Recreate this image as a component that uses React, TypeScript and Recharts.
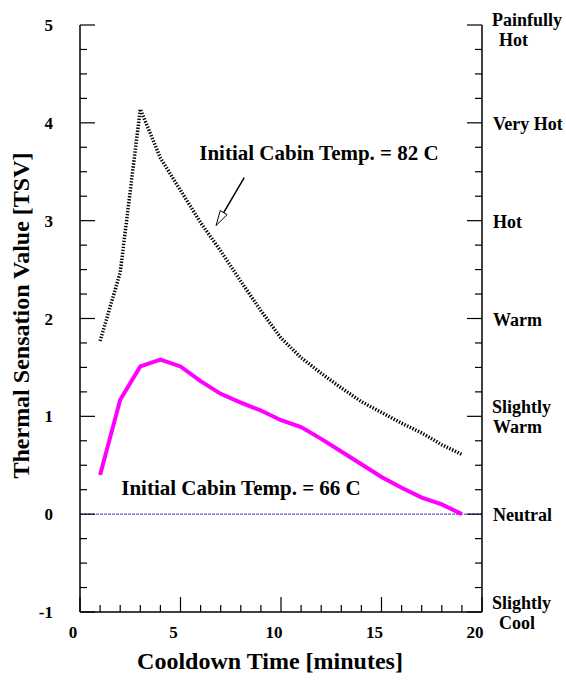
import { LineChart, Line, XAxis, YAxis, ReferenceLine, ReferenceDot, Label } from "recharts";

const FONT = '"Liberation Serif", "Times New Roman", Times, serif';
const textStyle = { fontFamily: FONT, fontWeight: "bold" as const, fill: "#000" };

// cooldown time in minutes
const minutes = [1, 2, 3, 4, 5, 6, 7, 8, 9, 10, 11, 12, 13, 14, 15, 16, 17, 18, 19];
// TSV, initial cabin temperature 82 C
const tsv82 = [1.77, 2.47, 4.14, 3.64, 3.31, 2.98, 2.69, 2.38, 2.08, 1.8, 1.6, 1.44, 1.29, 1.15, 1.04, 0.93, 0.83, 0.71, 0.61];
// TSV, initial cabin temperature 66 C
const tsv66 = [0.4, 1.17, 1.51, 1.58, 1.51, 1.36, 1.23, 1.14, 1.06, 0.96, 0.89, 0.77, 0.64, 0.51, 0.38, 0.27, 0.17, 0.1, 0.0];

const xTicks = [0, 1, 2, 3, 4, 5, 6, 7, 8, 9, 10, 11, 12, 13, 14, 15, 16, 17, 18, 19, 20];
const yTicks = Array.from({ length: 25 }, (_, i) => -1 + i * 0.25);

const sensationValues = [5, 4, 3, 2, 1, 0, -1];
const sensationNames = [
  ["Painfully", "Hot"],
  ["Very Hot"],
  ["Hot"],
  ["Warm"],
  ["Slightly", "Warm"],
  ["Neutral"],
  ["Slightly", "Cool"],
];

const data = minutes.map((m, i) => ({ minute: m, tsv82: tsv82[i], tsv66: tsv66[i] }));

const MAJOR = 15;
const MINOR = 7;

function LeftTick({ x, y, payload }: any) {
  const v = payload.value;
  const major = Number.isInteger(v);
  return (
    <g>
      <line x1={x} y1={y} x2={x + (major ? MAJOR : MINOR)} y2={y} stroke="#000" strokeWidth={1.2} />
      {major && (
        <text x={x - 27} y={y + 6} textAnchor="end" style={{ ...textStyle, fontSize: 17 }}>
          {v}
        </text>
      )}
    </g>
  );
}

function RightTick({ x, y, payload }: any) {
  const v = payload.value;
  const major = Number.isInteger(v);
  const idx = sensationValues.indexOf(v);
  const lines = idx >= 0 ? sensationNames[idx] : [];
  const shift = v === 5 ? 4 : 0;
  return (
    <g>
      <line x1={x} y1={y} x2={x - (major ? MAJOR : MINOR)} y2={y} stroke="#000" strokeWidth={1.2} />
      {lines.length === 1 && (
        <text x={x + 11} y={y + 7} style={{ ...textStyle, fontSize: 18 }}>
          {lines[0]}
        </text>
      )}
      {lines.length === 2 && (
        <text style={{ ...textStyle, fontSize: 18 }}>
          <tspan x={x + 10} y={y - 3 + shift}>{lines[0]}</tspan>
          <tspan x={x + (lines[1] === "Warm" ? 11 : 17)} y={y + 17 + shift}>{lines[1]}</tspan>
        </text>
      )}
    </g>
  );
}

function BottomTick({ x, y, payload }: any) {
  const v = payload.value;
  const major = v % 5 === 0;
  return (
    <g>
      <line x1={x} y1={y} x2={x} y2={y - (major ? MAJOR : MINOR)} stroke="#000" strokeWidth={1.2} />
      {major && (
        <text x={x - 7} y={y + 26} textAnchor="middle" style={{ ...textStyle, fontSize: 17 }}>
          {v}
        </text>
      )}
    </g>
  );
}

function TopTick({ x, y, payload }: any) {
  const major = payload.value % 5 === 0;
  return <line x1={x} y1={y} x2={x} y2={y + (major ? MAJOR : MINOR)} stroke="#000" strokeWidth={1.2} />;
}

function Arrow({ x1, y1, x2, y2 }: any) {
  const dx = x2 - x1;
  const dy = y2 - y1;
  const len = Math.hypot(dx, dy);
  const ux = dx / len;
  const uy = dy / len;
  const hl = 15;
  const hw = 4;
  const bx = x2 - ux * hl;
  const by = y2 - uy * hl;
  const px = -uy;
  const py = ux;
  return (
    <g>
      <line x1={x1} y1={y1} x2={bx} y2={by} stroke="#000" strokeWidth={1.5} />
      <polygon
        points={`${x2},${y2} ${bx + px * hw},${by + py * hw} ${bx - px * hw},${by - py * hw}`}
        fill="#fff"
        stroke="#000"
        strokeWidth={1}
      />
    </g>
  );
}

const annotation = (text: string) => (props: any) => {
  const { x, y } = props.viewBox;
  return (
    <text x={x} y={y + 7} textAnchor="middle" style={{ ...textStyle, fontSize: 21 }}>
      {text}
    </text>
  );
};

const axisLine = { stroke: "#000", strokeWidth: 1.5 };

export default function App() {
  return (
    <div style={{ position: "absolute", left: 0, top: 0, background: "#fff" }}>
      <LineChart width={566} height={683} data={data} margin={{ top: 25, right: 0, bottom: 0, left: 0 }}>
        <XAxis
          dataKey="minute"
          type="number"
          domain={[0, 20]}
          ticks={xTicks}
          interval={0}
          allowDataOverflow
          height={71}
          tickSize={0}
          tickMargin={0}
          tickLine={false}
          axisLine={axisLine}
          tick={BottomTick}
        >
          <Label
            content={(p: any) => (
              <text
                x={p.viewBox.x + p.viewBox.width / 2 - 11}
                y={669}
                textAnchor="middle"
                style={{ ...textStyle, fontSize: 24 }}
              >
                Cooldown Time [minutes]
              </text>
            )}
          />
        </XAxis>
        <XAxis
          xAxisId="top"
          orientation="top"
          dataKey="minute"
          type="number"
          domain={[0, 20]}
          ticks={xTicks}
          interval={0}
          allowDataOverflow
          height={0}
          tickSize={0}
          tickMargin={0}
          tickLine={false}
          axisLine={axisLine}
          tick={TopTick}
        />
        <YAxis
          type="number"
          domain={[-1, 5]}
          ticks={yTicks}
          interval={0}
          allowDataOverflow
          width={80}
          tickSize={0}
          tickMargin={0}
          tickLine={false}
          axisLine={axisLine}
          tick={LeftTick}
        >
          <Label
            content={(p: any) => {
              const cx = 21;
              const cy = p.viewBox.y + p.viewBox.height / 2 - 3;
              return (
                <text
                  x={cx}
                  y={cy}
                  transform={`rotate(-90 ${cx} ${cy})`}
                  textAnchor="middle"
                  dominantBaseline="central"
                  style={{ ...textStyle, fontSize: 24 }}
                >
                  Thermal Sensation Value [TSV]
                </text>
              );
            }}
          />
        </YAxis>
        <YAxis
          yAxisId="right"
          orientation="right"
          type="number"
          domain={[-1, 5]}
          ticks={yTicks}
          interval={0}
          allowDataOverflow
          width={84}
          tickSize={0}
          tickMargin={0}
          tickLine={false}
          axisLine={axisLine}
          tick={RightTick}
        />
        <ReferenceLine y={0} stroke="#5b5bdc" strokeWidth={1.2} strokeDasharray="3 1" />
        <Line
          dataKey="tsv82"
          type="linear"
          stroke="#000"
          strokeWidth={3.5}
          strokeDasharray="1.4 1.6"
          dot={false}
          isAnimationActive={false}
        />
        <Line
          dataKey="tsv66"
          type="linear"
          stroke="#ff00ff"
          strokeWidth={4}
          dot={false}
          isAnimationActive={false}
        />
        <ReferenceLine
          segment={[
            { x: 8.17, y: 3.44 },
            { x: 6.77, y: 2.95 },
          ]}
          shape={Arrow}
        />
        <ReferenceDot x={11.89} y={3.69} r={0} fill="none" stroke="none" label={annotation("Initial Cabin Temp. = 82 C")} />
        <ReferenceDot x={8.01} y={0.27} r={0} fill="none" stroke="none" label={annotation("Initial Cabin Temp. = 66 C")} />
      </LineChart>
    </div>
  );
}
